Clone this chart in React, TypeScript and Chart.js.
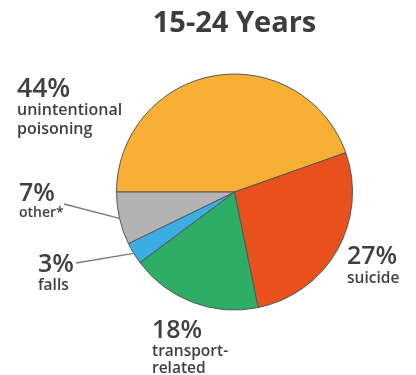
import React, { useEffect, useRef } from "react";
import { Chart, registerables } from "chart.js";

Chart.register(...registerables);

const title = "15-24 Years";
const categories = ["unintentional poisoning", "suicide", "transport-related", "falls", "other*"];
const shares = [44.6, 27.2, 18.0, 3.0, 7.2];
const percentLabels = ["44%", "27%", "18%", "3%", "7%"];
const labelLines = [["unintentional", "poisoning"], ["suicide"], ["transport-", "related"], ["falls"], ["other*"]];
const colors = ["#F7B034", "#E8511E", "#2EAD67", "#3BADE3", "#B3B3B3"];

// label layout: x, percent baseline, first line baseline, line step, sizes, leader start (or null)
const labelLayout = [
  { x: 17, py: 97, ly: 115, step: 19, ps: 26.5, ls: 16, leader: null as null | [number, number] },
  { x: 347, py: 264, ly: 283, step: 19, ps: 25, ls: 15.5, leader: null },
  { x: 152, py: 338, ly: 356, step: 17, ps: 25, ls: 15.5, leader: null },
  { x: 38, py: 272, ly: 290, step: 19, ps: 25, ls: 15.5, leader: [76, 263] as [number, number] },
  { x: 19, py: 201, ly: 217, step: 19, ps: 25, ls: 14, leader: [64, 204] as [number, number] },
];

const textColor = "#404040";

const labelPlugin = {
  id: "sliceLabels",
  afterDraw(chart: any) {
    const ctx = chart.ctx as CanvasRenderingContext2D;
    const meta = chart.getDatasetMeta(0);
    const first = meta.data[0];
    ctx.save();
    // title
    ctx.fillStyle = "#3d3d3d";
    ctx.font = "bold 29px 'Open Sans'";
    ctx.textAlign = "center";
    ctx.textBaseline = "alphabetic";
    ctx.fillText(title, first.x, 32);

    ctx.textAlign = "left";
    meta.data.forEach((arc: any, i: number) => {
      const lay = labelLayout[i];
      if (lay.leader) {
        const mid = (arc.startAngle + arc.endAngle) / 2;
        const ex = arc.x + Math.cos(mid) * arc.outerRadius;
        const ey = arc.y + Math.sin(mid) * arc.outerRadius;
        ctx.strokeStyle = "#7a7a7a";
        ctx.lineWidth = 1.3;
        ctx.beginPath();
        ctx.moveTo(lay.leader[0], lay.leader[1]);
        ctx.lineTo(ex, ey);
        ctx.stroke();
      }
      ctx.fillStyle = textColor;
      ctx.font = `600 ${lay.ps}px 'Open Sans'`;
      ctx.fillText(percentLabels[i], lay.x, lay.py);
      ctx.font = `600 ${lay.ls}px 'Open Sans'`;
      labelLines[i].forEach((line, j) => {
        ctx.fillText(line, lay.x, lay.ly + j * lay.step);
      });
    });
    ctx.restore();
  },
};

export default function App() {
  const ref = useRef<HTMLCanvasElement>(null);
  useEffect(() => {
    if (!ref.current) return;
    const chart = new Chart(ref.current, {
      type: "pie",
      data: {
        labels: categories,
        datasets: [
          {
            data: shares,
            backgroundColor: colors,
            borderColor: "#555555",
            borderWidth: 1,
          },
        ],
      },
      options: {
        responsive: false,
        animation: false,
        rotation: -90,
        layout: { padding: { left: 116, right: 63, top: 73, bottom: 64 } },
        plugins: {
          legend: { display: false },
          tooltip: { enabled: false },
          title: { display: false },
        },
      },
      plugins: [labelPlugin],
    });
    return () => chart.destroy();
  }, []);
  return (
    <div style={{ position: "fixed", left: 0, top: 0, width: 416, height: 375, background: "#fff" }}>
      <canvas ref={ref} width={416} height={375} style={{ width: 416, height: 375 }} />
    </div>
  );
}
